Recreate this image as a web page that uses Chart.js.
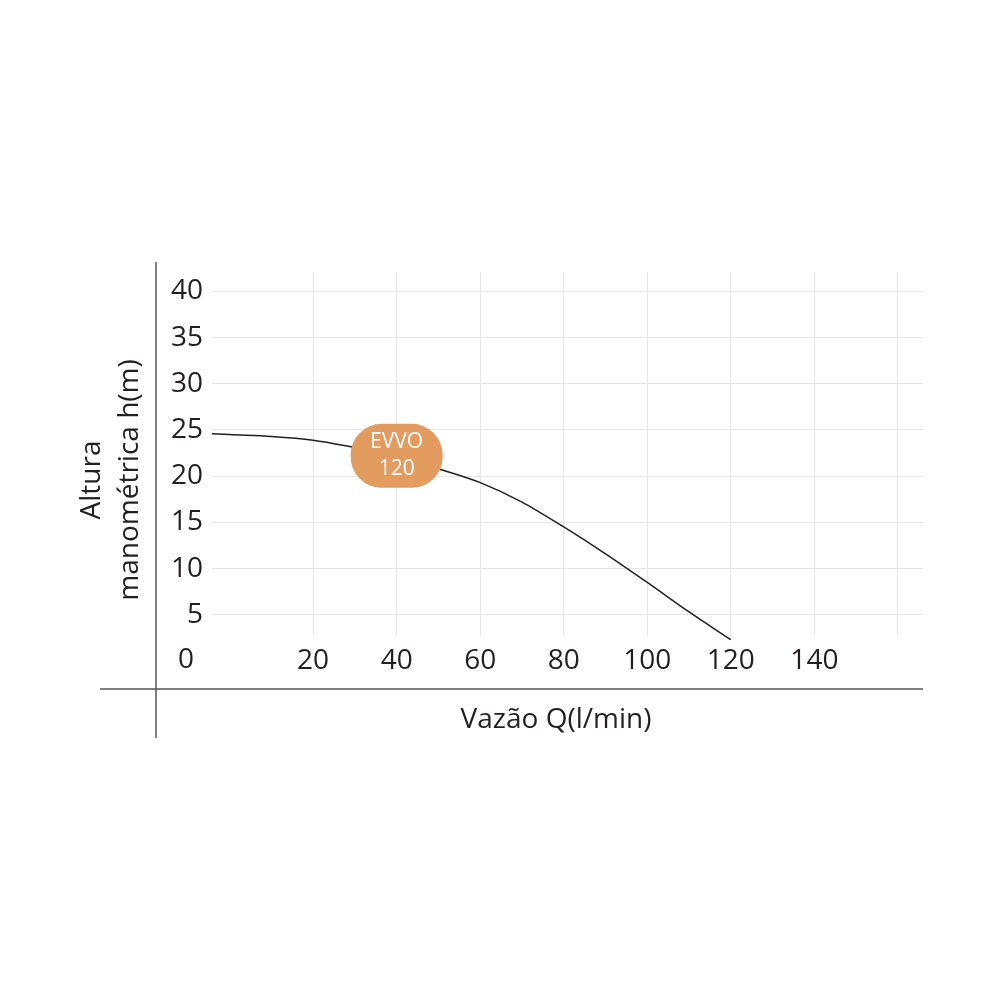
<!DOCTYPE html>
<html>
<head>
<meta charset="utf-8">
<script src="https://cdn.jsdelivr.net/npm/chart.js@4.4.1/dist/chart.umd.min.js"></script>
<style>
  html, body { margin: 0; padding: 0; background: #fff; }
  #wrap { width: 1000px; height: 1000px; }
</style>
</head>
<body>
<div id="wrap"><canvas id="mychart" width="1000" height="1000"></canvas></div>
<script>
// flow (l/min) and head (m)
var flow = [-4.2, 0, 10, 20, 30, 40, 50, 60, 70, 80, 90, 100, 110, 120];
var head = [24.6, 24.5, 24.3, 23.9, 23.1, 22.2, 20.8, 19.3, 17.2, 14.5, 11.6, 8.5, 5.3, 2.3];
// tick labels
var xTicks = [20, 40, 60, 80, 100, 120, 140, 160];
var yTicks = [5, 10, 15, 20, 25, 30, 35, 40];
// texts
var xTitle = 'Vazão Q(l/min)';
var yTitle = ['Altura', 'manométrica h(m)'];
var badge = ['EVVO', '120'];
var badgeAt = [40, 22.2];

var font = '"Open Sans", "Noto Sans", sans-serif';
var ink = '#231f20';
var orange = '#e39c5f';

var points = flow.map(function (q, i) { return { x: q, y: head[i] }; });

// frame lines, axis titles, corner zero and the model badge
var extras = {
  id: 'extras',
  afterDraw: function (chart) {
    var c = chart.ctx;
    var xs = chart.scales.x, ys = chart.scales.y;
    c.save();
    c.strokeStyle = '#555';
    c.lineWidth = 1.5;
    c.beginPath();
    c.moveTo(156, 262); c.lineTo(156, 738);
    c.moveTo(100, 689); c.lineTo(923, 689);
    c.stroke();

    c.fillStyle = ink;
    c.font = '28px ' + font;
    c.textAlign = 'right';
    c.textBaseline = 'middle';
    c.fillText('0', 194, 660);

    c.font = '28px ' + font;
    c.textAlign = 'center';
    c.fillText(xTitle, 556, 720);

    c.translate(111, 480);
    c.rotate(-Math.PI / 2);
    c.fillText(yTitle[0], 0, -19);
    c.fillText(yTitle[1], 0, 19);
    c.restore();

    var bx = xs.getPixelForValue(badgeAt[0]);
    var by = ys.getPixelForValue(badgeAt[1]);
    var w = 92, h = 64, r = 31;
    c.save();
    c.fillStyle = orange;
    c.beginPath();
    c.roundRect(bx - w / 2, by - h / 2, w, h, r);
    c.fill();
    c.fillStyle = '#fff';
    c.font = '21px ' + font;
    c.textAlign = 'center';
    c.textBaseline = 'middle';
    c.fillText(badge[0], bx, by - 14);
    c.fillText(badge[1], bx, by + 13);
    c.restore();
  }
};

var ctx = document.getElementById('mychart');
var myChart = new Chart(ctx, {
  type: 'scatter',
  data: {
    datasets: [{
      data: points,
      showLine: true,
      borderColor: ink,
      borderWidth: 1.5,
      pointRadius: 0,
      cubicInterpolationMode: 'monotone',
      clip: false
    }]
  },
  options: {
    responsive: false,
    animation: false,
    layout: { padding: { left: 152, right: 77, top: 272, bottom: 324 } },
    plugins: { legend: { display: false }, tooltip: { enabled: false } },
    scales: {
      x: {
        type: 'linear',
        min: -4.2,
        max: 166,
        afterBuildTicks: function (s) { s.ticks = xTicks.map(function (v) { return { value: v }; }); },
        afterFit: function (s) { s.height = 40; },
        grid: { color: '#e6e6e6', lineWidth: 1, drawTicks: false },
        border: { display: false },
        ticks: {
          color: ink,
          padding: 8,
          maxRotation: 0,
          autoSkip: false,
          font: { family: font, size: 28 },
          callback: function (v) { return v === 160 ? '' : v; }
        }
      },
      y: {
        min: 2.7,
        max: 42.1,
        afterBuildTicks: function (s) { s.ticks = yTicks.map(function (v) { return { value: v }; }); },
        afterFit: function (s) { s.width = 60; },
        grid: { color: '#e6e6e6', lineWidth: 1, drawTicks: false },
        border: { display: false },
        ticks: {
          color: ink,
          padding: 9,
          font: { family: font, size: 28 }
        }
      }
    }
  },
  plugins: [extras]
});
</script>
</body>
</html>
